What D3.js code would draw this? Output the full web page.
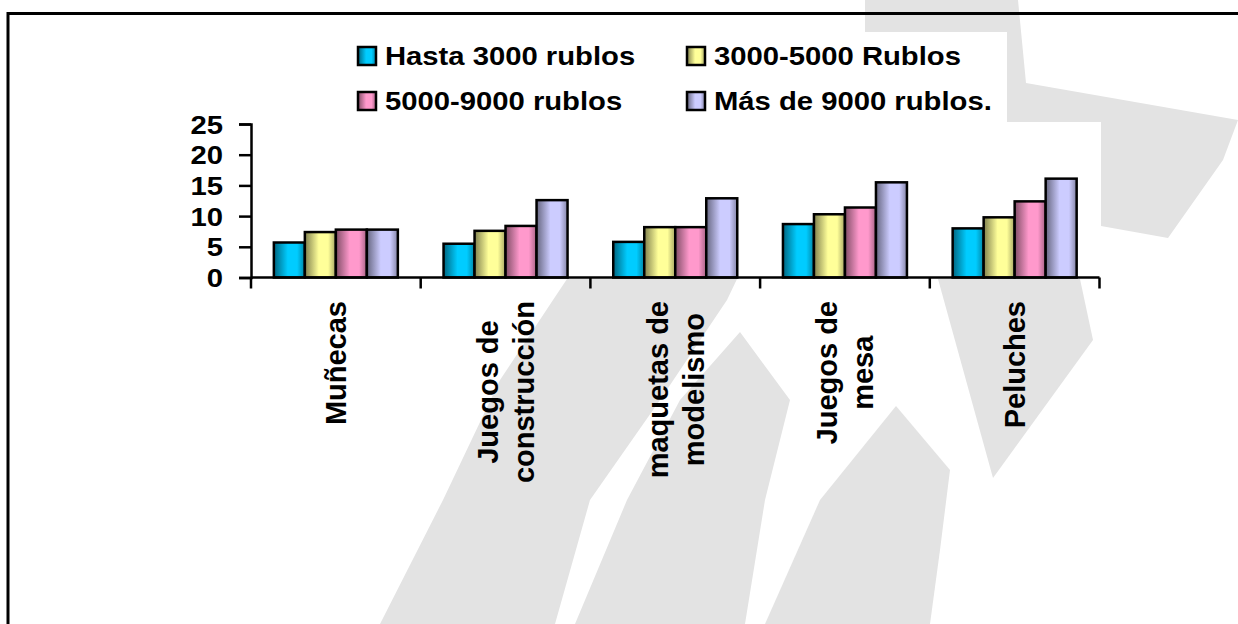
<!DOCTYPE html>
<html>
<head>
<meta charset="utf-8">
<script src="https://cdn.jsdelivr.net/npm/d3@7"></script>
<style>
  html, body { margin: 0; padding: 0; background: #fff; }
  svg { display: block; }
  text { font-family: "Liberation Sans", Arial, sans-serif; font-weight: bold; fill: #000; }
</style>
</head>
<body>
<svg id="chart" width="1238" height="624"></svg>
<script>
// Toy categories (two-line labels split by "\n")
const categories = ["Muñecas", "Juegos de\nconstrucción", "maquetas de\nmodelismo", "Juegos de\nmesa", "Peluches"];
// Price ranges
const seriesNames = ["Hasta 3000 rublos", "3000-5000 Rublos", "5000-9000 rublos", "Más de 9000 rublos."];
// Values per price range, one per category
const hasta3000 = [5.7, 5.5, 5.8, 8.7, 8.0];
const de3000a5000 = [7.4, 7.6, 8.2, 10.3, 9.8];
const de5000a9000 = [7.8, 8.4, 8.2, 11.4, 12.4];
const masDe9000 = [7.8, 12.6, 12.9, 15.5, 16.1];
const yTicks = [0, 5, 10, 15, 20, 25];

const seriesValues = [hasta3000, de3000a5000, de5000a9000, masDe9000];
const baseColors = ["#00CCFF", "#FFFF99", "#FF99CC", "#CCCCFF"];

const svg = d3.select("#chart");
const W = 1238, H = 624;
const HSTRETCH = 1.17; // horizontal text is drawn slightly wide

// Gradients giving the bars a rounded, shaded look
const defs = svg.append("defs");
baseColors.forEach((c, i) => {
  const base = d3.color(c);
  const g = defs.append("linearGradient").attr("id", "grad" + i)
    .attr("x1", "0%").attr("x2", "100%").attr("y1", "0%").attr("y2", "0%");
  g.append("stop").attr("offset", "0%").attr("stop-color", d3.interpolateRgb(base, "#000")(0.5));
  g.append("stop").attr("offset", "45%").attr("stop-color", c);
  g.append("stop").attr("offset", "75%").attr("stop-color", c);
  g.append("stop").attr("offset", "100%").attr("stop-color", d3.interpolateRgb(base, "#000")(0.35));
});

// Light grey decorative bands in the background
const bandColor = "#e3e3e3";
const bands = [
  [[865,0],[1018,0],[1026,83],[1238,120],[1223,160],[1168,238],[1101,226],[900,200],[865,100]],
  [[938,279],[1080,279],[1093,340],[993,478]],
  [[567,279],[737,279],[727,300],[660,400],[590,500],[555,624],[380,624],[443,500],[500,380],[553,300]],
  [[740,332],[790,400],[765,500],[745,624],[575,624],[627,500],[680,400]],
  [[896,406],[950,470],[940,550],[930,624],[765,624],[820,500]]
];
const line = d3.line();
svg.append("g").selectAll("path").data(bands).join("path")
  .attr("d", d => line(d) + "Z")
  .attr("fill", bandColor);

// White backgrounds of legend and plot area
svg.append("rect").attr("x", 340).attr("y", 32).attr("width", 1007 - 340).attr("height", 90).attr("fill", "#fff");
svg.append("rect").attr("x", 230).attr("y", 122).attr("width", 1101 - 230).attr("height", 157).attr("fill", "#fff");

// Frame
svg.append("path").attr("d", `M8,${H + 10} V13.5 H${W + 10}`)
  .attr("fill", "none").attr("stroke", "#000").attr("stroke-width", 3);

// Scales
const x0 = d3.scaleBand().domain(categories).range([251, 1099.5]).paddingInner(0).paddingOuter(0);
const barW = 31;
const x1 = d3.scaleBand().domain(d3.range(4)).range([0, barW * 4]);
const y = d3.scaleLinear().domain([0, 25]).range([277.5, 124]);

// Bars
const groups = svg.append("g").selectAll("g").data(categories).join("g")
  .attr("transform", d => `translate(${x0(d) + (x0.bandwidth() - barW * 4) / 2},0)`);
groups.selectAll("rect").data((d, ci) => seriesValues.map((s, si) => ({ si, v: s[ci] })))
  .join("rect")
  .attr("x", d => x1(d.si))
  .attr("width", x1.bandwidth())
  .attr("y", d => y(d.v))
  .attr("height", d => y(0) - y(d.v))
  .attr("fill", d => `url(#grad${d.si})`)
  .attr("stroke", "#000").attr("stroke-width", 2.5);

// Y axis
const yAxis = svg.append("g").attr("transform", "translate(251,0)")
  .call(d3.axisLeft(y).tickValues(yTicks).tickSize(12).tickPadding(16));
yAxis.select(".domain").attr("stroke-width", 2.5);
yAxis.selectAll(".tick line").attr("stroke-width", 2.5);
yAxis.selectAll(".tick text")
  .attr("font-size", 25).attr("dy", "0.36em")
  .attr("font-family", null)
  .each(function () {
    const t = d3.select(this);
    const xx = +t.attr("x");
    t.attr("x", 0).attr("transform", `translate(${xx},0) scale(${HSTRETCH},1)`);
  });

// X axis with ticks on category boundaries
const boundaries = categories.map(c => x0(c)).concat([x0.range()[1]]);
const xAxisG = svg.append("g");
xAxisG.append("line").attr("x1", 251).attr("x2", 1099.5).attr("y1", y(0)).attr("y2", y(0))
  .attr("stroke", "#000").attr("stroke-width", 2.5);
xAxisG.selectAll("line.tk").data(boundaries).join("line").attr("class", "tk")
  .attr("x1", d => d).attr("x2", d => d).attr("y1", y(0)).attr("y2", y(0) + 11)
  .attr("stroke", "#000").attr("stroke-width", 2.5);

// Rotated category labels: block aligned to the axis, lines centred within it
const labelFont = 29, lineGap = 36, labelTop = 301;
categories.forEach(c => {
  const lines = c.split("\n");
  const cx = x0(c) + x0.bandwidth() / 2;
  const g = svg.append("g");
  const texts = lines.map((ln, i) => g.append("text").attr("font-size", labelFont).text(ln));
  const maxLen = d3.max(texts, t => t.node().getComputedTextLength());
  const cy = labelTop + maxLen / 2;
  texts.forEach((t, i) => {
    const bx = cx + (i - (lines.length - 1) / 2) * lineGap + labelFont * 0.36;
    t.attr("text-anchor", "middle")
      .attr("transform", `translate(${bx},${cy}) rotate(-90)`);
  });
});

// Legend: two rows, two columns
const legendPos = [[358, 47], [687, 47], [358, 92], [687, 92]];
const lg = svg.append("g");
seriesNames.forEach((name, i) => {
  const [lx, ly] = legendPos[i];
  lg.append("rect").attr("x", lx).attr("y", ly).attr("width", 18).attr("height", 18)
    .attr("fill", `url(#grad${i})`).attr("stroke", "#000").attr("stroke-width", 2.5);
  lg.append("text").attr("font-size", 25)
    .attr("transform", `translate(${lx + 27},${ly + 18}) scale(${HSTRETCH},1)`)
    .text(name);
});
</script>
</body>
</html>
